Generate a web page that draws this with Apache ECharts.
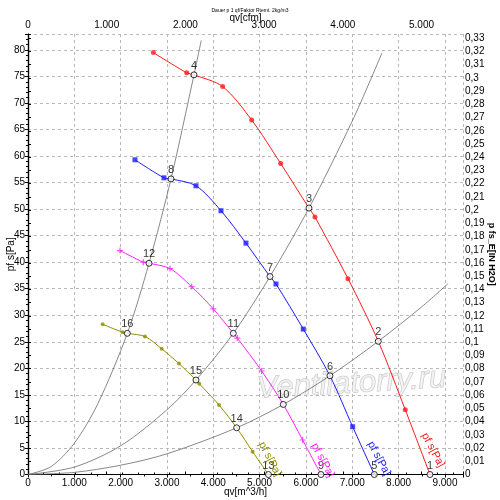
<!DOCTYPE html>
<html><head><meta charset="utf-8">
<script src="https://cdn.jsdelivr.net/npm/echarts/dist/echarts.min.js"></script>
<style>html,body{margin:0;padding:0;background:#fff}#c{width:500px;height:500px}</style>
</head><body><div id="c"></div>
<script>
// fan curve measuring points [qv m^3/h, pf s Pa]
const redMarkers = [[2705,79.5],[3425,75.7],[4202,73.1],[4828,66.8],[5454,58.6],[6195,48.5],[6907,36.9],[8144,12.2]];
const blueMarkers = [[2309,59.3],[2935,55.9],[3626,54.4],[4166,49.7],[4705,43.6],[5353,35.9],[5943,27.4],[7008,9.0]];
const magentaMarkers = [[1986,42.2],[2489,40.0],[3065,38.8],[3533,35.4],[4000,31.2],[4518,25.7],[5044,19.5],[5928,6.5]];
const oliveMarkers = [[1612,28.3],[2043,26.8],[2525,26.0],[2885,23.7],[3259,20.9],[3698,17.1],[4123,13.1],[4849,4.3]];
// numbered operating points [no, qv, pf s]
const opPoints = [
  ['1',8677,0],['2',7561,25.1],['3',6065,50.2],['4',3583,75.3],
  ['5',7476,0],['6',6518,18.6],['7',5223,37.3],['8',3087,55.7],
  ['9',6324,0],['10',5511,13.2],['11',4432,26.6],['12',2612,39.8],
  ['13',5190,0],['14',4504,8.8],['15',3626,17.8],['16',2144,26.6]];
const redOp = ['1','2','3','4'];
const blueOp = ['5','6','7','8'];
const magentaOp = ['9','10','11','12'];
const oliveOp = ['13','14','15','16'];
// system curves
const sysSteep = [[0,0],[500,1.5],[1000,5.9],[1500,13.2],[2144,26.6],[2612,39.8],[3087,55.7],[3583,75.3],[3740,81.8]];
const sysMid = [[0,0],[1000,1.4],[2000,5.4],[3000,12.2],[3626,17.8],[4432,26.6],[5223,37.3],[6065,50.2],[7000,66.6],[7640,79.4]];
const sysFlat = [[0,0],[1000,0.4],[2000,1.75],[3000,3.9],[4504,8.8],[5511,13.2],[6518,18.6],[7561,25.1],[8500,31.6],[9070,36.0]];
// axis ranges
const qvMax = 9390, pMax = 83;
const cfmFactor = 1.699, inH2O = 249.09;
const seriesLabel = 'pf s[Pa]';
const titleText = 'Dauer p 1 qf/Faktor Rtemt. 2kg/m3';

function curve(markers, nos){
  const pts = markers.concat(opPoints.filter(p=>nos.includes(p[0])).map(p=>[p[1],p[2]]));
  return pts.sort((a,b)=>a[0]-b[0]);
}
function thou(v){
  if (Math.abs(v % 1000) > 1e-6) return '';
  if (v===0) return '0';
  return (v/1000) + '.000';
}
const FONT = 'Liberation Sans, Arial, sans-serif';
const plus = 'path://M4,0H6V4H10V6H6V10H4V6H0V4H4Z';

function fan(name, color, markers, nos, sym, size){
  return [{
    type:'line', xAxisIndex:0, yAxisIndex:0, data: curve(markers, nos),
    smooth:0.3, showSymbol:false, symbol:'none',
    lineStyle:{color:color, width:1}, z:3, silent:true
  },{
    type:'scatter', xAxisIndex:0, yAxisIndex:0, data: markers,
    symbol:sym, symbolSize:size, itemStyle:{color:color}, z:4, silent:true
  }];
}
function sys(data){
  return {type:'line', xAxisIndex:0, yAxisIndex:0, data:data, smooth:0.3,
    symbol:'none', lineStyle:{color:'#6a6a6a', width:0.8}, z:2, silent:true};
}

const chart = echarts.init(document.getElementById('c'));
const axisTxt = {fontSize:10, color:'#000', fontFamily:FONT};
const option = {
  animation:false,
  textStyle:{fontFamily:FONT},
  title:{text:titleText, left:'center', top:3, textStyle:{fontSize:5, fontWeight:'normal', color:'#000'}},
  grid:{left:28, right:37, top:34, bottom:25.5, containLabel:false, outerBoundsMode:'none'},
  xAxis:[{
    type:'value', position:'bottom', min:0, max:qvMax, interval:1000,
    name:'qv[m^3/h]', nameLocation:'middle', nameGap:13, nameMoveOverlap:false, nameTextStyle:axisTxt,
    axisLine:{show:true, lineStyle:{color:'#000', width:1.2}},
    axisTick:{show:true, length:3, lineStyle:{color:'#000'}},
    minorTick:{show:true, splitNumber:2, length:2, lineStyle:{color:'#000'}},
    axisLabel:Object.assign({formatter:thou, margin:4}, axisTxt),
    splitLine:{show:true, lineStyle:{color:'#b8b8b8', type:[3,3], width:1}}
  },{
    type:'value', position:'top', min:0, max:qvMax/cfmFactor, interval:1000,
    name:'qv[cfm]', nameLocation:'middle', nameGap:11, nameMoveOverlap:false, nameTextStyle:axisTxt,
    axisLine:{show:true, lineStyle:{color:'#000', width:1.2}},
    axisTick:{show:true, length:3, lineStyle:{color:'#000'}},
    minorTick:{show:true, splitNumber:5, length:2, lineStyle:{color:'#000'}},
    axisLabel:Object.assign({formatter:thou, margin:4}, axisTxt),
    splitLine:{show:false}
  }],
  yAxis:[{
    type:'value', position:'left', min:0, max:pMax, interval:5,
    name:'pf s[Pa]', nameLocation:'middle', nameGap:12, nameRotate:90, nameMoveOverlap:false, nameTextStyle:axisTxt,
    axisLine:{show:true, lineStyle:{color:'#000', width:1.2}},
    axisTick:{show:true, length:3, lineStyle:{color:'#000'}},
    minorTick:{show:true, splitNumber:5, length:2, lineStyle:{color:'#000'}},
    axisLabel:Object.assign({margin:3, formatter:v=> (Math.abs(v%5)>1e-6?'':String(v))}, axisTxt),
    splitLine:{show:true, lineStyle:{color:'#b8b8b8', type:[3,3], width:1}}
  },{
    type:'value', position:'right', min:0, max:pMax/inH2O, interval:0.01,
    name:'p fs_E[IN H2O]', nameLocation:'middle', nameGap:24, nameRotate:-90, nameMoveOverlap:false,
    nameTextStyle:Object.assign({}, axisTxt, {fontSize:9, fontWeight:'bold'}),
    axisLine:{show:true, lineStyle:{color:'#000', width:1.2}},
    axisTick:{show:true, length:3, lineStyle:{color:'#000'}},
    axisLabel:Object.assign({margin:2, formatter:v=>{
      const r = Math.round(v*100)/100;
      if (Math.abs(v*100 - Math.round(v*100))>1e-6) return '';
      return String(r).replace('.', ',');
    }}, axisTxt),
    splitLine:{show:false}
  }],
  series:[
    sys(sysSteep), sys(sysMid), sys(sysFlat),
    ...fan('red', '#ff1a1a', redMarkers, redOp, 'circle', 5),
    ...fan('blue', '#1a1aff', blueMarkers, blueOp, 'rect', 5),
    ...fan('magenta', '#ff22ff', magentaMarkers, magentaOp, plus, 6),
    ...fan('olive', '#8f8f00', oliveMarkers, oliveOp, 'circle', 4),
    {
      type:'scatter', xAxisIndex:0, yAxisIndex:0, z:6, silent:true,
      data: opPoints.map(p=>({name:p[0], value:[p[1],p[2]]})),
      symbol:'circle', symbolSize:6,
      itemStyle:{color:'#fff', borderColor:'#000', borderWidth:1},
      label:{show:true, formatter:'{b}', position:'top', distance:0, color:'#000', fontSize:11, fontFamily:FONT}
    }
  ]
};
chart.setOption(option);

// rotated series labels near the ends of the fan curves
const labelSpots = [
  {coord:[8740,4.6], color:'#ff1a1a'},
  {coord:[7575,3.0], color:'#1a1aff'},
  {coord:[6360,2.7], color:'#ff22ff'},
  {coord:[5220,2.9], color:'#8f8f00'}
];
const graphics = labelSpots.map(s=>{
  const p = chart.convertToPixel({xAxisIndex:0, yAxisIndex:0}, s.coord);
  return {type:'text', x:p[0], y:p[1], rotation:-62*Math.PI/180, z:7,
    style:{text:seriesLabel, fill:s.color, font:'11px '+FONT, align:'center', verticalAlign:'middle'}};
});
graphics.push({type:'text', x:256, y:374, rotation:0.06, z:1,
  style:{text:'Ventilatorry.ru', font:'italic 31px '+FONT, fill:'rgba(240,240,240,0.7)', stroke:'rgba(175,175,175,0.75)', lineWidth:0.9}});
chart.setOption({graphic:graphics});
</script></body></html>
